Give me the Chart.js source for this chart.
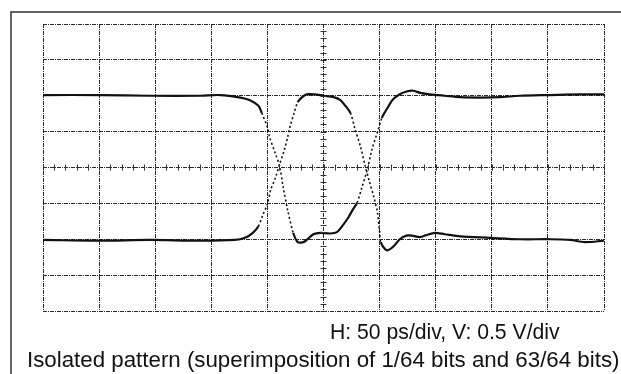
<!DOCTYPE html>
<html>
<head>
<meta charset="utf-8">
<script src="https://cdn.jsdelivr.net/npm/chart.js@4"></script>
<style>
  body { margin: 0; background: #fff; }
  #wrap { position: relative; width: 621px; height: 374px; }
  #myChart { position: absolute; left: 0; top: 0; }
  .cap { position: absolute; font-family: "Liberation Sans", Arial, sans-serif; color: #111; white-space: nowrap; }
</style>
</head>
<body>
<div id="wrap">
  <canvas id="myChart" width="621" height="374"></canvas>
  <div class="cap" style="left:330px; top:321px; font-size:21.2px; line-height:21.2px;">H: 50 ps/div, V: 0.5 V/div</div>
  <div class="cap" style="left:27px; top:349px; font-size:22.3px; line-height:22.3px;">Isolated pattern (superimposition of 1/64 bits and 63/64 bits)</div>
</div>
<script>
// 63/64 bits trace: high, one low bit, back high (ps, V)
const highTime = [0, 51, 95, 140, 158, 176, 184, 192, 195, 200, 202, 207, 211, 214, 218, 223, 227, 232, 235, 241, 247, 256, 262, 267, 272, 276, 280, 284, 289, 293, 298, 302, 307, 312, 318, 324, 330, 336, 345, 358, 372, 390, 407, 425, 452, 479, 500];
const highVolt = [1.01, 1.01, 1.00, 1.00, 1.01, 0.975, 0.94, 0.86, 0.76, 0.56, 0.42, 0.20, 0.01, -0.27, -0.59, -0.91, -1.04, -1.04, -1.01, -0.93, -0.91, -0.92, -0.90, -0.81, -0.70, -0.59, -0.49, -0.29, -0.03, 0.24, 0.49, 0.69, 0.83, 0.95, 1.02, 1.06, 1.07, 1.04, 1.02, 1.00, 0.98, 0.975, 0.98, 1.00, 1.01, 1.02, 1.02];

// 1/64 bits trace: low, one high bit, back low (ps, V)
const lowTime = [0, 51, 95, 140, 171, 180, 187, 192, 196, 200, 203, 207, 211, 215, 218, 220, 224, 227, 231, 235, 242, 250, 259, 265, 269, 274, 278, 283, 287, 291, 295, 298, 300, 301, 305, 308, 313, 318, 324, 329, 336, 342, 349, 358, 372, 398, 425, 452, 470, 483, 500];
const lowVolt = [-1.01, -1.02, -1.01, -1.02, -1.01, -0.98, -0.91, -0.82, -0.66, -0.51, -0.31, -0.15, 0.05, 0.24, 0.42, 0.56, 0.77, 0.91, 0.98, 1.02, 1.02, 1.00, 0.98, 0.94, 0.87, 0.76, 0.54, 0.29, 0.03, -0.20, -0.42, -0.62, -0.90, -1.04, -1.14, -1.15, -1.09, -1.00, -0.95, -0.95, -0.97, -0.94, -0.91, -0.93, -0.96, -0.98, -1.00, -1.00, -1.01, -1.04, -1.02];

const toPoints = (t, v) => t.map((x, i) => ({ x: x, y: v[i] }));

// fast edges look dotted on the sampling scope
const steep = ctx => Math.abs(ctx.p1.y - ctx.p0.y) > 2.2 * Math.abs(ctx.p1.x - ctx.p0.x);

const traceStyle = {
    borderColor: '#111',
    borderWidth: 2.2,
    pointRadius: 0,
    tension: 0.3,
    fill: false,
    segment: {
        borderDash: ctx => steep(ctx) ? [2, 2.5] : undefined,
        borderWidth: ctx => steep(ctx) ? 1.6 : undefined
    }
};

const scopeDecor = {
    id: 'scopeDecor',
    beforeDraw(chart) {
        const c = chart.ctx;
        c.save();
        c.fillStyle = '#fff';
        c.fillRect(0, 0, chart.width, chart.height);
        c.strokeStyle = '#333';
        c.lineWidth = 1.5;
        c.beginPath();
        c.moveTo(11, 374);
        c.lineTo(11, 12);
        c.lineTo(621, 12);
        c.stroke();
        c.restore();
    },
    afterDatasetsDraw(chart) {
        const c = chart.ctx;
        const xs = chart.scales.x, ys = chart.scales.y;
        const cx = xs.getPixelForValue(250), cy = ys.getPixelForValue(0);
        c.save();
        c.strokeStyle = '#333';
        c.lineWidth = 1;
        c.beginPath();
        for (let t = 0; t <= 500; t += 10) {
            const px = Math.round(xs.getPixelForValue(t)) + 0.5;
            c.moveTo(px, cy - 3);
            c.lineTo(px, cy + 3);
        }
        for (let v = -2; v <= 2.001; v += 0.1) {
            const py = Math.round(ys.getPixelForValue(v)) + 0.5;
            c.moveTo(cx - 3, py);
            c.lineTo(cx + 3, py);
        }
        c.stroke();
        c.restore();
    }
};

const gridOpts = {
    color: '#2a2a2a',
    lineWidth: 1,
    drawTicks: false
};

new Chart(document.getElementById('myChart').getContext('2d'), {
    type: 'line',
    data: {
        datasets: [
            Object.assign({ label: '63/64 bits', data: toPoints(highTime, highVolt) }, traceStyle),
            Object.assign({ label: '1/64 bits', data: toPoints(lowTime, lowVolt) }, traceStyle)
        ]
    },
    options: {
        responsive: false,
        animation: false,
        devicePixelRatio: 1,
        layout: { padding: { left: 43, right: 17, top: 24, bottom: 63 } },
        plugins: { legend: { display: false }, tooltip: { enabled: false } },
        scales: {
            x: {
                type: 'linear',
                min: 0,
                max: 500,
                ticks: { display: false, stepSize: 50 },
                grid: gridOpts,
                border: { display: false, dash: [4, 1, 1, 1] }
            },
            y: {
                type: 'linear',
                min: -2,
                max: 2,
                ticks: { display: false, stepSize: 0.5 },
                grid: gridOpts,
                border: { display: false, dash: [4, 1, 1, 1] }
            }
        }
    },
    plugins: [scopeDecor]
});
</script>
</body>
</html>
